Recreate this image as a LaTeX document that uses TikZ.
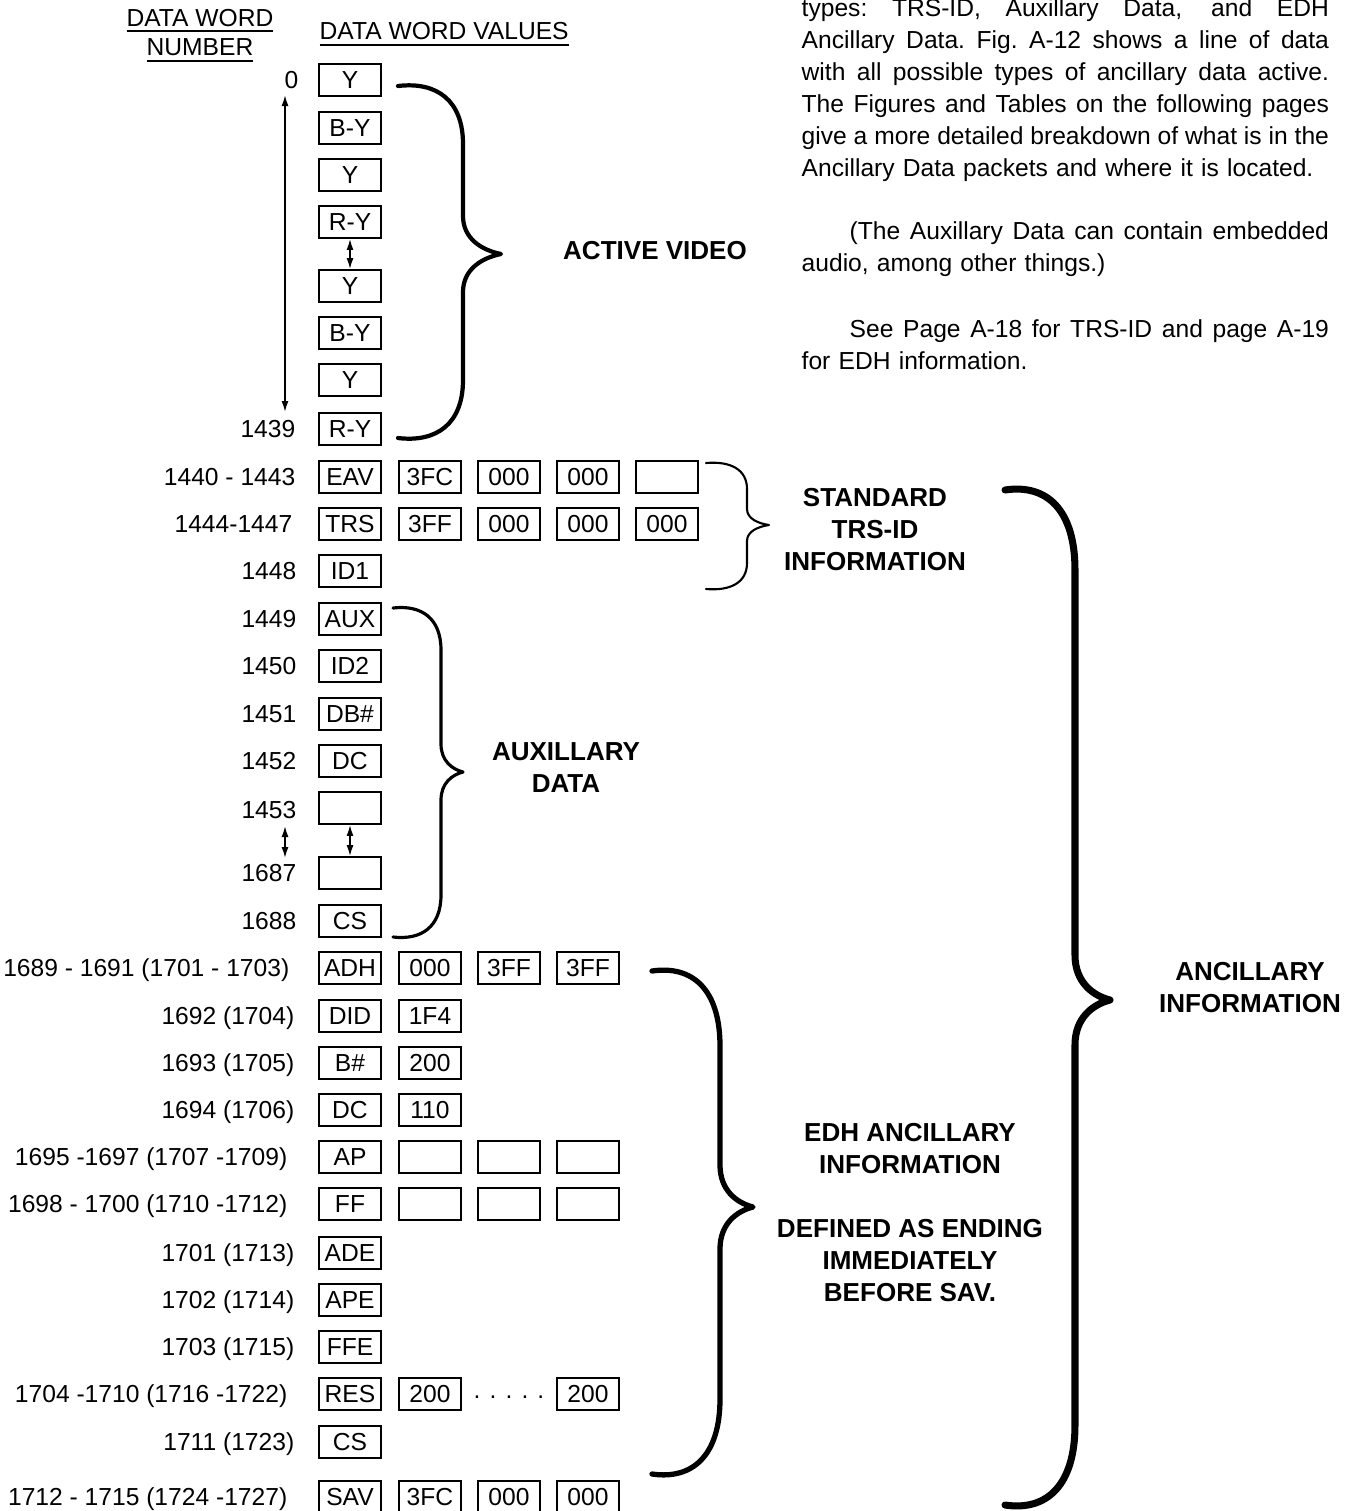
\documentclass[tikz,border=0pt]{standalone}
\usepackage{fontspec}
\setmainfont{Liberation Sans}
\usetikzlibrary{arrows.meta}

\newcommand{\wordfont}{\fontsize{7}{8.4}\selectfont}
\newcommand{\headfont}{\fontsize{7}{8.5}\selectfont}
\newcommand{\groupfont}{\fontsize{7.4}{9.1}\selectfont\bfseries}
\newcommand{\bodyfont}{\fontsize{7}{9.1}\selectfont}
% one justified line of the side text
\newcommand{\jline}[2][5.27cm]{\leavevmode\hbox to #1{\spaceskip=.278em plus 1fil minus .12em
  \xspaceskip=.278em plus 1fil minus .12em #2}}
% curly brace: width, end x, top y, bottom y, spine x, tip x, tip y, end bend, tip bend
\newcommand{\curlybrace}[9]{%
  \draw[line width=#1, line cap=round, line join=round]
    (#2,#3) .. controls ({#2+0.6*(#5-#2)},{#3-0.08*#8}) and (#5,{#3+0.25*#8}) .. (#5,{#3+#8})
    -- (#5,{#7-#9})
    .. controls (#5,{#7-0.4*#9}) and ({#6-0.5*(#6-#5)},{#7-0.1*#9}) .. (#6,#7)
    .. controls ({#6-0.5*(#6-#5)},{#7+0.1*#9}) and (#5,{#7+0.4*#9}) .. (#5,{#7+#9})
    -- (#5,{#4-#8})
    .. controls (#5,{#4-0.25*#8}) and ({#2+0.6*(#5-#2)},{#4+0.08*#8}) .. (#2,#4);}

\tikzset{
  wordbox/.style={draw, line width=0.5pt, minimum width=0.62cm, minimum height=0.32cm,
    inner sep=0pt, text height=5pt, text depth=0pt, font=\wordfont},
  numlabel/.style={anchor=east, inner sep=0pt, text height=5pt, text depth=0pt, font=\wordfont},
  heading/.style={font=\headfont, align=center, inner sep=0pt},
  groupname/.style={font=\groupfont, align=center, inner sep=0pt},
  bodytext/.style={font=\bodyfont, anchor=base west, inner sep=0pt, align=left, text width=5.27cm},
  spanarrow/.style={{Latex[length=1.1mm,width=0.7mm]}-{Latex[length=1.1mm,width=0.7mm]}, line width=0.45pt},
}

\begin{document}
\begin{tikzpicture}[x=0.01cm, y=-0.01cm]
    \useasboundingbox (0,0) rectangle (1359,1511);
    \clip (0,0) rectangle (1359,1511);

    % Column headings
    \node[heading] (hnum) at (200,36) {\underline{DATA WORD}\\\underline{NUMBER}};
    \node[heading, anchor=west] (hval) at (319,35) {\underline{DATA WORD VALUES}};

    % Active video
    \node[wordbox] (av1) at (350,80) {Y};
    \node[wordbox] (av2) at (350,128) {B-Y};
    \node[wordbox] (av3) at (350,175) {Y};
    \node[wordbox] (av4) at (350,222) {R-Y};
    \node[wordbox] (av5) at (350,286) {Y};
    \node[wordbox] (av6) at (350,333) {B-Y};
    \node[wordbox] (av7) at (350,380) {Y};
    \node[wordbox] (av8) at (350,429) {R-Y};
    \node[numlabel] (n0) at (299,80) {0};
    \node[numlabel] (n1439) at (296,429) {1439};
    \coordinate (avtop) at (285,95);
    \coordinate (avbot) at (285,412);
    \draw[spanarrow] (avtop) -- (avbot);
    \draw[spanarrow] (av4.south) -- (av5.north);
    \curlybrace{1.2pt}{398}{86}{438}{463}{501}{254}{58}{38}
    \node[groupname] (gav) at (655,251) {ACTIVE VIDEO};

    % TRS-ID
    \node[wordbox] (eav) at (350,477) {EAV};
    \node[wordbox] (eav2) at (430,477) {3FC};
    \node[wordbox] (eav3) at (509,477) {000};
    \node[wordbox] (eav4) at (588,477) {000};
    \node[wordbox] (eav5) at (667,477) {};
    \node[wordbox] (trs) at (350,524) {TRS};
    \node[wordbox] (trs2) at (430,524) {3FF};
    \node[wordbox] (trs3) at (509,524) {000};
    \node[wordbox] (trs4) at (588,524) {000};
    \node[wordbox] (trs5) at (667,524) {000};
    \node[wordbox] (id1) at (350,571) {ID1};
    \node[numlabel] (n1440) at (296,477) {1440 - 1443};
    \node[numlabel] (n1444) at (293,524) {1444-1447};
    \node[numlabel] (n1448) at (297,571) {1448};
    \curlybrace{0.6pt}{706}{463}{589}{747}{769}{525}{26}{16}
    \node[groupname] (gtrs) at (875,530) {STANDARD\\TRS-ID\\INFORMATION};

    % Auxillary data
    \node[wordbox] (aux1) at (350,619) {AUX};
    \node[wordbox] (aux2) at (350,666) {ID2};
    \node[wordbox] (aux3) at (350,714) {DB\#};
    \node[wordbox] (aux4) at (350,761) {DC};
    \node[wordbox] (aux5) at (350,808) {};
    \node[wordbox] (aux6) at (350,873) {};
    \node[wordbox] (aux7) at (350,921) {CS};
    \node[numlabel] (n1449) at (297,619) {1449};
    \node[numlabel] (n1450) at (297,666) {1450};
    \node[numlabel] (n1451) at (297,714) {1451};
    \node[numlabel] (n1452) at (297,761) {1452};
    \node[numlabel] (n1453) at (297,810) {1453};
    \node[numlabel] (n1687) at (297,873) {1687};
    \node[numlabel] (n1688) at (297,921) {1688};
    \coordinate (auxtop) at (285,826);
    \coordinate (auxbot) at (285,858);
    \draw[spanarrow] (auxtop) -- (auxbot);
    \draw[spanarrow] (aux5.south) -- (aux6.north);
    \curlybrace{0.9pt}{393}{608}{937}{441}{463}{772}{42}{28}
    \node[groupname] (gaux) at (566,768) {AUXILLARY\\DATA};

    % EDH ancillary data
    \node[wordbox] (adh) at (350,968) {ADH};
    \node[wordbox] (adh2) at (430,968) {000};
    \node[wordbox] (adh3) at (509,968) {3FF};
    \node[wordbox] (adh4) at (588,968) {3FF};
    \node[wordbox] (did) at (350,1016) {DID};
    \node[wordbox] (did2) at (430,1016) {1F4};
    \node[wordbox] (bnum) at (350,1063) {B\#};
    \node[wordbox] (bnum2) at (430,1063) {200};
    \node[wordbox] (dc) at (350,1110) {DC};
    \node[wordbox] (dc2) at (430,1110) {110};
    \node[wordbox] (ap) at (350,1157) {AP};
    \node[wordbox] (ap2) at (430,1157) {};
    \node[wordbox] (ap3) at (509,1157) {};
    \node[wordbox] (ap4) at (588,1157) {};
    \node[wordbox] (ff) at (350,1204) {FF};
    \node[wordbox] (ff2) at (430,1204) {};
    \node[wordbox] (ff3) at (509,1204) {};
    \node[wordbox] (ff4) at (588,1204) {};
    \node[wordbox] (ade) at (350,1253) {ADE};
    \node[wordbox] (ape) at (350,1300) {APE};
    \node[wordbox] (ffe) at (350,1347) {FFE};
    \node[wordbox] (res) at (350,1394) {RES};
    \node[wordbox] (res2) at (430,1394) {200};
    \node[font=\wordfont, inner sep=0pt] (resdots) at (509,1397) {. . . . .};
    \node[wordbox] (res4) at (588,1394) {200};
    \node[wordbox] (cs) at (350,1442) {CS};
    \node[wordbox] (sav) at (350,1497) {SAV};
    \node[wordbox] (sav2) at (430,1497) {3FC};
    \node[wordbox] (sav3) at (509,1497) {000};
    \node[wordbox] (sav4) at (588,1497) {000};
    \node[numlabel] (n1689) at (290,968) {1689 - 1691 (1701 - 1703)};
    \node[numlabel] (n1692) at (295,1016) {1692 (1704)};
    \node[numlabel] (n1693) at (295,1063) {1693 (1705)};
    \node[numlabel] (n1694) at (295,1110) {1694 (1706)};
    \node[numlabel] (n1695) at (288,1157) {1695 -1697 (1707 -1709)};
    \node[numlabel] (n1698) at (288,1204) {1698 - 1700 (1710 -1712)};
    \node[numlabel] (n1701) at (295,1253) {1701 (1713)};
    \node[numlabel] (n1702) at (295,1300) {1702 (1714)};
    \node[numlabel] (n1703) at (295,1347) {1703 (1715)};
    \node[numlabel] (n1704) at (288,1394) {1704 -1710 (1716 -1722)};
    \node[numlabel] (n1711) at (295,1442) {1711 (1723)};
    \node[numlabel] (n1712) at (288,1497) {1712 - 1715 (1724 -1727)};
    \curlybrace{1.5pt}{652}{971}{1474}{720}{753}{1207}{75}{42}
    \node[groupname] (gedh) at (910,1213) {EDH ANCILLARY\\INFORMATION\\[9.1pt]DEFINED AS ENDING\\IMMEDIATELY\\BEFORE SAV.};

    % Ancillary information
    \curlybrace{2pt}{1005}{490}{1505}{1075}{1110}{1000}{80}{45}
    \node[groupname] (ganc) at (1250,988) {ANCILLARY\\INFORMATION};

    % Side text
    \node[bodytext] (para1) at (801,16) {\jline{types: TRS-ID, Auxillary Data, and EDH}\\
      \jline{Ancillary Data. Fig. A-12 shows a line of data}\\
      \jline{with all possible types of ancillary data active.}\\
      \jline{The Figures and Tables on the following pages}\\
      \jline{give a more detailed breakdown of what is in the}\\
      Ancillary Data packets and where it is located.};
    \node[bodytext] (para2) at (801,239) {\hspace*{0.48cm}\jline[4.79cm]{(The Auxillary Data can contain embedded}\\
      audio, among other things.)};
    \node[bodytext] (para3) at (801,337) {\hspace*{0.48cm}\jline[4.79cm]{See Page A-18 for TRS-ID and page A-19}\\
      for EDH information.};
\end{tikzpicture}
\end{document}
